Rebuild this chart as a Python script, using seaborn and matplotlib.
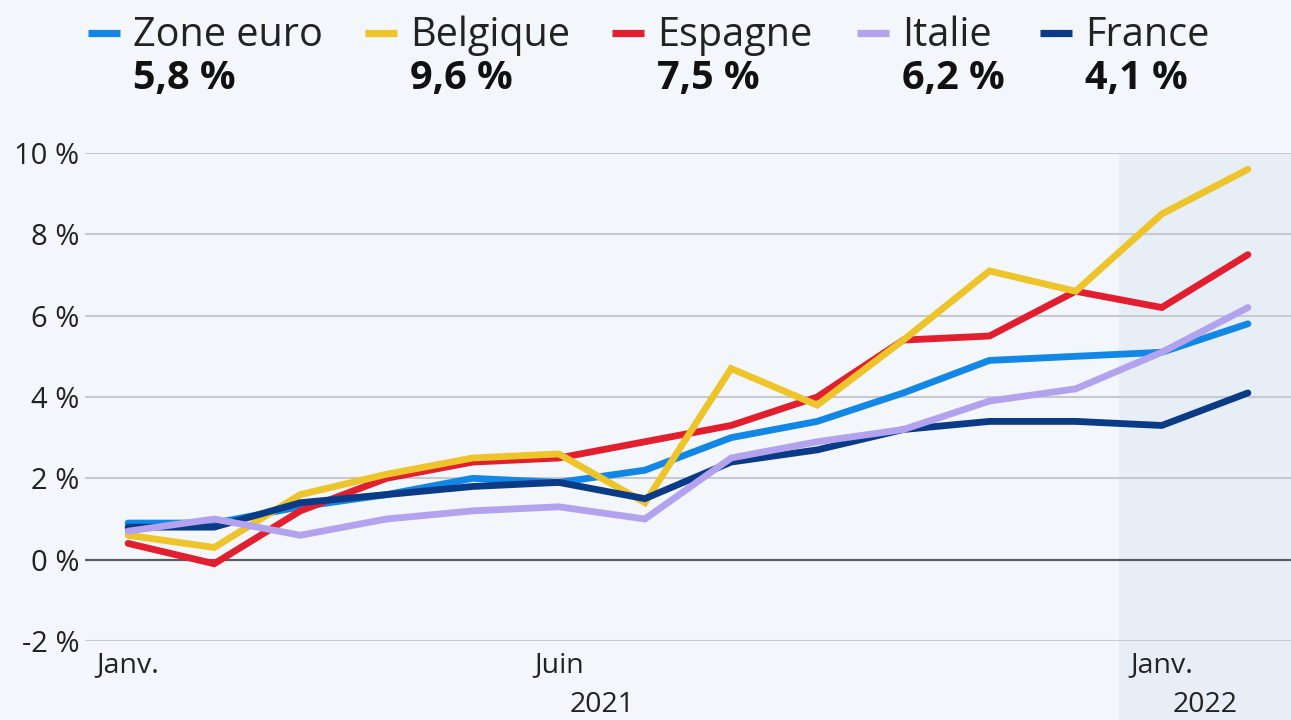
import numpy as np
import pandas as pd
import matplotlib
matplotlib.use("Agg")
import matplotlib.pyplot as plt
from matplotlib.lines import Line2D
import seaborn as sns

# ---- data ----
months = ["Janv.", "Févr.", "Mars", "Avr.", "Mai", "Juin", "Juil.", "Août",
          "Sept.", "Oct.", "Nov.", "Déc.", "Janv.", "Févr."]
zone_euro = [0.9, 0.9, 1.3, 1.6, 2.0, 1.9, 2.2, 3.0, 3.4, 4.1, 4.9, 5.0, 5.1, 5.8]
belgique = [0.6, 0.3, 1.6, 2.1, 2.5, 2.6, 1.4, 4.7, 3.8, 5.4, 7.1, 6.6, 8.5, 9.6]
espagne = [0.4, -0.1, 1.2, 2.0, 2.4, 2.5, 2.9, 3.3, 4.0, 5.4, 5.5, 6.6, 6.2, 7.5]
italie = [0.7, 1.0, 0.6, 1.0, 1.2, 1.3, 1.0, 2.5, 2.9, 3.2, 3.9, 4.2, 5.1, 6.2]
france = [0.8, 0.8, 1.4, 1.6, 1.8, 1.9, 1.5, 2.4, 2.7, 3.2, 3.4, 3.4, 3.3, 4.1]
series_names = ["Zone euro", "Belgique", "Espagne", "Italie", "France"]
series_values = [zone_euro, belgique, espagne, italie, france]
colors = ["#1387e6", "#eec42b", "#e11f2f", "#b3a3ee", "#0b3a86"]
xtick_pos = [0, 5, 12]
xtick_labels = ["Janv.", "Juin", "Janv."]
year_labels = ["2021", "2022"]
yticks = [-2, 0, 2, 4, 6, 8, 10]

rows = []
for name, vals in zip(series_names, series_values):
    for i, v in enumerate(vals):
        rows.append({"idx": i, "val": v, "serie": name})
df = pd.DataFrame(rows)

sns.set_theme(style="white")
plt.rcParams["font.family"] = ["Open Sans", "DejaVu Sans"]

BG = "#f3f6fa"
fig = plt.figure(figsize=(12.91, 7.2), dpi=100, facecolor=BG)
ax = fig.add_axes([85 / 1291, 1 - 641 / 720, 1 - 85 / 1291, (641 - 153) / 720])
ax.set_facecolor(BG)

# shaded 2022 area (extends below axes)
ax.axvspan(11.5, 13.5, ymin=-0.17, ymax=1.0, color="#e8eef6", zorder=0,
           clip_on=False, lw=0)

for y in yticks:
    if y == 0:
        ax.axhline(y, color="#5a5d60", lw=1.6, zorder=1)
    else:
        ax.axhline(y, color="#c6c9cd", lw=1.5, zorder=1)

zorders = {"Zone euro": 3, "Espagne": 4, "Belgique": 5, "France": 6, "Italie": 7}
palette = dict(zip(series_names, colors))
for name in ["Zone euro", "Espagne", "Belgique", "France", "Italie"]:
    sns.lineplot(data=df[df.serie == name], x="idx", y="val", color=palette[name],
                 lw=4.9, ax=ax, zorder=zorders[name], legend=False,
                 solid_capstyle="round", solid_joinstyle="miter")
    ax.lines[-1].set_clip_on(False)

ax.set_xlim(-0.5, 13.5)
ax.set_ylim(-2, 10)
for s in ax.spines.values():
    s.set_visible(False)
ax.set_xlabel("")
ax.set_ylabel("")

ax.set_yticks(yticks)
ax.set_yticklabels([f"{y} %" for y in yticks], fontsize=21, color="#222222")
ax.tick_params(axis="y", length=0, pad=4)

ax.set_xticks(xtick_pos)
ax.set_xticklabels(xtick_labels, fontsize=20.5, color="#222222")
ax.set_xticks([5.5, 12.5], minor=True)
ax.set_xticklabels(year_labels, minor=True, fontsize=20.5, color="#222222")
ax.tick_params(axis="x", which="major", length=0, pad=7)
ax.tick_params(axis="x", which="minor", length=0, pad=36)

# custom legend
leg_marker_x = [88, 365, 612, 857, 1040]
for x0, name, vals, c in zip(leg_marker_x, series_names, series_values, colors):
    fig.add_artist(Line2D([x0 / 1291, (x0 + 32) / 1291], [1 - 33 / 720, 1 - 33 / 720],
                          color=c, lw=5.2, solid_capstyle="butt",
                          transform=fig.transFigure))
    fig.text((x0 + 45) / 1291, 1 - 46 / 720, name, fontsize=28.5, color="#222222",
             va="baseline", ha="left")
    fig.text((x0 + 45) / 1291, 1 - 89 / 720, f"{vals[-1]:.1f} %".replace(".", ","),
             fontsize=28.5, fontweight="bold", color="#111111", va="baseline", ha="left")

fig.savefig("out.png", dpi=100, facecolor=BG)
